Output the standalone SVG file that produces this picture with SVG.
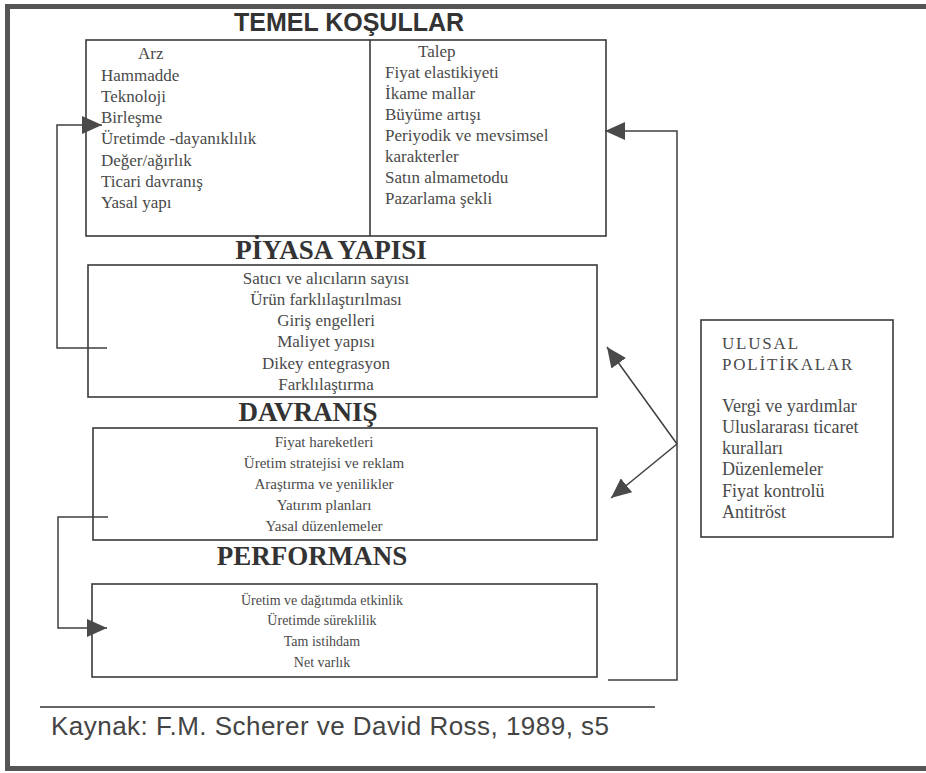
<svg xmlns="http://www.w3.org/2000/svg" width="926" height="773" viewBox="0 0 926 773" xml:space="preserve">
<defs>
<style>
.frame{fill:none;stroke:#555;stroke-width:5}
.box{fill:none;stroke:#3a3a3a;stroke-width:1.6}
.conn{fill:none;stroke:#3f3f3f;stroke-width:1.5}
.t{fill:#4a4a4a}
.h{font-weight:bold;fill:#333;font-size:27px;text-anchor:middle}
.c{text-anchor:middle}
</style>
<marker id="ah" markerUnits="userSpaceOnUse" viewBox="0 0 20 18" refX="20" refY="9" markerWidth="20" markerHeight="18" orient="auto">
<path d="M0,0 L20,9 L0,18 z" fill="#4a4a4a"/>
</marker>
</defs>
<rect x="0" y="0" width="926" height="773" fill="#fff"/>
<rect class="frame" x="7.5" y="6.5" width="940" height="762"/>

<g id="temel-kosullar" font-family="'Liberation Serif','Times New Roman',serif">
<text x="349" y="31" font-family="'Liberation Sans',Arial,sans-serif" font-weight="bold" font-size="25" fill="#333" text-anchor="middle">TEMEL KOŞULLAR</text>
<rect class="box" x="86" y="40" width="520" height="196"/>
<line class="box" x1="370" y1="40" x2="370" y2="236"/>
<g class="t" font-size="17">
<text x="138" y="59">Arz</text>
<text x="101" y="81">Hammadde</text>
<text x="101" y="102">Teknoloji</text>
<text x="101" y="123">Birleşme</text>
<text x="101" y="144">Üretimde -dayanıklılık</text>
<text x="101" y="166">Değer/ağırlık</text>
<text x="101" y="187">Ticari davranış</text>
<text x="101" y="208">Yasal yapı</text>
<text x="418" y="57">Talep</text>
<text x="385" y="78">Fiyat elastikiyeti</text>
<text x="385" y="99">İkame mallar</text>
<text x="385" y="120">Büyüme artışı</text>
<text x="385" y="141">Periyodik ve  mevsimsel</text>
<text x="385" y="162">karakterler</text>
<text x="385" y="183">Satın almametodu</text>
<text x="385" y="204">Pazarlama şekli</text>
</g>
</g>

<g id="piyasa-yapisi" font-family="'Liberation Serif','Times New Roman',serif">
<text class="h" x="331" y="259" font-size="28">PİYASA YAPISI</text>
<rect class="box" x="88" y="265" width="509" height="132"/>
<g class="t c" font-size="17">
<text x="326" y="284">Satıcı ve alıcıların sayısı</text>
<text x="326" y="305">Ürün farklılaştırılması</text>
<text x="326" y="326">Giriş engelleri</text>
<text x="326" y="347">Maliyet yapısı</text>
<text x="326" y="369">Dikey entegrasyon</text>
<text x="326" y="390">Farklılaştırma</text>
</g>
</g>

<g id="davranis" font-family="'Liberation Serif','Times New Roman',serif">
<text class="h" x="308" y="421">DAVRANIŞ</text>
<rect class="box" x="93" y="428" width="504" height="112"/>
<g class="t c" font-size="15">
<text x="324" y="447">Fiyat hareketleri</text>
<text x="324" y="468">Üretim stratejisi ve reklam</text>
<text x="324" y="489">Araştırma ve yenilikler</text>
<text x="324" y="510">Yatırım planları</text>
<text x="324" y="531">Yasal düzenlemeler</text>
</g>
</g>

<g id="performans" font-family="'Liberation Serif','Times New Roman',serif">
<text class="h" x="312" y="565">PERFORMANS</text>
<rect class="box" x="92" y="584" width="505" height="93"/>
<g class="t c" font-size="14">
<text x="322" y="605">Üretim ve dağıtımda etkinlik</text>
<text x="322" y="625">Üretimde süreklilik</text>
<text x="322" y="646">Tam istihdam</text>
<text x="322" y="667">Net varlık</text>
</g>
</g>

<g id="ulusal-politikalar" font-family="'Liberation Serif','Times New Roman',serif">
<rect class="box" x="701" y="320" width="192" height="217"/>
<g class="t" font-size="17" letter-spacing="1.8">
<text x="722" y="349">ULUSAL</text>
<text x="722" y="370">POLİTİKALAR</text>
</g>
<g class="t" font-size="18">
<text x="722" y="412">Vergi ve yardımlar</text>
<text x="722" y="433">Uluslararası ticaret</text>
<text x="722" y="454">kuralları</text>
<text x="722" y="475">Düzenlemeler</text>
<text x="722" y="497">Fiyat kontrolü</text>
<text x="722" y="518">Antitröst</text>
</g>
</g>

<g id="connectors">
<path class="conn" d="M107,348 H57 V125 H102" marker-end="url(#ah)"/>
<path class="conn" d="M108,517 H58 V628 H107" marker-end="url(#ah)"/>
<path class="conn" d="M608,680 H677 V131 H605" marker-end="url(#ah)"/>
<path class="conn" d="M677,444 L607,347" marker-end="url(#ah)"/>
<path class="conn" d="M677,444 L611,498" marker-end="url(#ah)"/>
</g>

<g id="source">
<line x1="40" y1="707" x2="655" y2="707" stroke="#333" stroke-width="1.5"/>
<text x="51" y="735" font-family="'Liberation Sans',Arial,sans-serif" font-size="26" fill="#444" textLength="558" lengthAdjust="spacing">Kaynak: F.M. Scherer  ve David Ross, 1989, s5</text>
</g>
</svg>
